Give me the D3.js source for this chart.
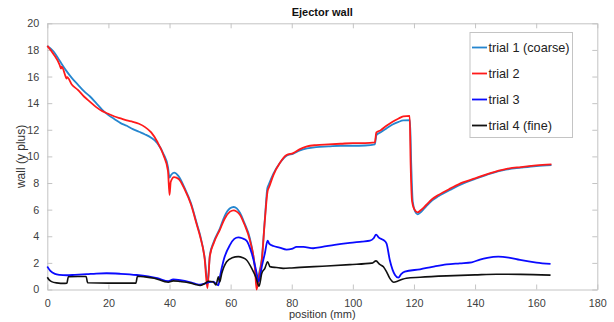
<!DOCTYPE html>
<html>
<head>
<meta charset="utf-8">
<script src="https://cdn.jsdelivr.net/npm/d3@7"></script>
<style>
  body { margin: 0; background: #fff; }
  svg { font-family: "Liberation Sans", Arial, sans-serif; }
</style>
</head>
<body>
<svg id="chart" width="614" height="322"></svg>
<script>
const xTicks = [0, 20, 40, 60, 80, 100, 120, 140, 160, 180];
const yTicks = [0, 2, 4, 6, 8, 10, 12, 14, 16, 18, 20];
const seriesNames = ["trial 1 (coarse)", "trial 2", "trial 3", "trial 4 (fine)"];

// position (mm), y plus
const trial1 = [
  [0, 18.3], [2, 17.9], [4, 17.2], [6, 16.5], [8, 15.9], [10, 15.4], [12, 14.9], [14, 14.5],
  [16, 14.0], [18, 13.5], [20, 13.1], [22, 12.8], [24, 12.5], [26, 12.3], [28, 12.05], [30, 11.85],
  [32, 11.65], [34, 11.4], [36, 11.0], [38, 10.2], [39.5, 9.2], [40, 8.4], [40.5, 8.6], [41.5, 8.78],
  [43, 8.5], [45, 7.6], [47, 6.5], [49, 4.9], [50, 4.1], [51.5, 2.4], [52.5, 0.5], [53.2, 2.6],
  [54.5, 3.6], [56.5, 4.6], [58, 5.5], [59.8, 6.1], [61, 6.2], [62, 6.1], [63.1, 5.75], [64.5, 5.0],
  [66.3, 3.85], [68, 1.6], [68.6, 0.3], [69.3, 1.2], [70.2, 2.3], [71.2, 5.3], [72, 7.6], [72.5, 7.9],
  [74, 8.7], [76.1, 9.5], [78.3, 10.05], [80.5, 10.2], [82.7, 10.45], [85, 10.6], [88, 10.7],
  [92, 10.75], [96, 10.8], [100, 10.8], [104, 10.82], [107.2, 10.9], [107.7, 11.6], [109, 11.8],
  [111, 12.1], [113, 12.4], [115, 12.6], [116.5, 12.7], [118.7, 12.72], [119.1, 9.5], [119.6, 6.6],
  [120.4, 5.85], [121.2, 5.65], [122.2, 5.8], [124, 6.25], [126, 6.7], [128, 7.0], [132, 7.5],
  [136, 7.95], [140, 8.3], [145, 8.7], [150, 9.0], [155, 9.15], [160, 9.28], [165, 9.35]
];

const trial2 = [
  [0, 18.3], [2, 17.7], [4, 16.9], [4.5, 16.6], [4.7, 16.75], [6, 16.0], [6.3, 15.85], [6.5, 15.95],
  [8, 15.4], [10, 15.0], [12, 14.5], [14, 14.1], [16, 13.7], [18, 13.4], [20, 13.2], [22, 13.0],
  [24, 12.85], [26, 12.7], [28, 12.6], [30, 12.45], [32, 12.2], [34, 11.8], [36, 11.1], [38, 10.1],
  [39.5, 8.9], [40, 7.1], [40.4, 8.1], [41.5, 8.45], [43, 8.3], [45, 7.5], [47, 6.4], [49, 4.8],
  [50, 4.0], [51.5, 2.3], [52.4, 0.1], [53.2, 2.5], [54.5, 3.5], [56.5, 4.5], [58, 5.3], [59.8, 5.85],
  [61, 5.95], [62, 5.85], [63.1, 5.6], [64.5, 4.9], [66.3, 3.7], [68, 1.5], [68.5, 0.0], [69.3, 1.0],
  [70.2, 2.2], [71.2, 5.2], [72.1, 7.4], [72.6, 7.7], [74, 8.6], [76.1, 9.5], [78.3, 10.1],
  [80.5, 10.25], [82.7, 10.55], [85, 10.75], [88, 10.85], [92, 10.9], [96, 10.95], [100, 11.0],
  [104, 11.0], [107.2, 11.05], [107.7, 11.8], [109, 11.95], [111, 12.3], [113, 12.6], [115, 12.85],
  [116.5, 13.0], [118.6, 13.05], [118.9, 9.5], [119.4, 6.6], [120.3, 5.95], [121.2, 5.8], [122.2, 5.95],
  [124, 6.35], [126, 6.8], [128, 7.1], [132, 7.6], [136, 8.05], [140, 8.35], [145, 8.75], [150, 9.05],
  [155, 9.2], [160, 9.32], [165, 9.4]
];

const trial3 = [
  [0, 1.72], [1, 1.4], [2.5, 1.17], [4, 1.1], [6.3, 1.07], [9, 1.1], [12.9, 1.15], [16, 1.2],
  [19.4, 1.22], [24, 1.18], [29.3, 1.09], [33, 0.98], [36, 0.85], [39.6, 0.62], [41.2, 0.75],
  [43.5, 0.7], [46.6, 0.55], [48.5, 0.42], [50, 0.36], [51.6, 0.45], [53, 0.55], [54.3, 0.59],
  [55.4, 0.41], [56, 0.32], [56.5, 0.96], [57.7, 2.2], [59.8, 3.35], [61.2, 3.8], [62.5, 3.92],
  [63.8, 3.85], [65.2, 3.67], [66.9, 2.72], [68.3, 1.47], [69.2, 0.6], [70.2, 1.72], [71.2, 2.72],
  [72.1, 3.67], [72.6, 3.45], [74, 3.27], [76, 3.15], [78.3, 3.0], [80, 3.05], [81.6, 3.2],
  [83.8, 3.2], [87, 3.1], [90, 3.2], [94, 3.35], [99, 3.5], [103, 3.6], [105.6, 3.67], [106.8, 3.85],
  [107.6, 4.12], [108.5, 3.9], [110, 3.72], [111, 3.47], [112.1, 2.2], [113.8, 1.09], [114.9, 0.89],
  [115.8, 1.15], [117, 1.34], [122, 1.52], [126, 1.7], [130.7, 1.89], [135, 1.97], [138.9, 2.04],
  [141.6, 2.25], [144, 2.38], [147.6, 2.47], [151, 2.4], [154.7, 2.22], [160.1, 2.02], [164.7, 1.92]
];

const trial4 = [
  [0, 0.92], [0.7, 0.7], [1.4, 0.59], [3, 0.5], [5.8, 0.46], [6.4, 0.47], [6.9, 0.96], [10, 0.98],
  [12.7, 0.98], [13.2, 0.51], [20, 0.48], [29.0, 0.48], [29.5, 1.0], [32, 0.95], [35, 0.85],
  [39.6, 0.55], [41.2, 0.65], [43.5, 0.6], [46.6, 0.5], [48.5, 0.38], [50, 0.3], [51.5, 0.45],
  [52.8, 0.62], [54.3, 0.57], [55.2, 0.34], [56, 0.96], [56.4, 0.55], [57.1, 1.22], [58.7, 2.09],
  [60.5, 2.38], [62.5, 2.47], [64, 2.38], [65.2, 2.22], [66.9, 1.59], [68.3, 0.9], [69.3, 0.25],
  [70.2, 1.22], [71.2, 1.59], [72.1, 2.09], [72.9, 1.72], [75, 1.65], [77.2, 1.59], [80, 1.62],
  [82.7, 1.66], [90, 1.75], [99, 1.87], [106.2, 1.98], [107.6, 2.15], [108.7, 1.9], [110, 1.71],
  [111, 1.35], [112.1, 0.84], [113.4, 0.55], [114.6, 0.62], [116, 0.75], [117.5, 0.85], [122, 0.92],
  [130.7, 1.02], [140, 1.1], [147, 1.15], [155, 1.14], [164.7, 1.08]
];

const series = [trial1, trial2, trial3, trial4];
const colors = ["#2586cf", "#ff1a1a", "#0a0aff", "#111111"];

const svg = d3.select("#chart");
const margin = { left: 47.3, top: 23.3, right: 16.7, bottom: 32.5 };
const W = 614 - margin.left - margin.right;
const H = 322 - margin.top - margin.bottom;

const x = d3.scaleLinear().domain([0, 180]).range([0, W]);
const y = d3.scaleLinear().domain([0, 20]).range([H, 0]);

const g = svg.append("g").attr("transform", `translate(${margin.left},${margin.top})`);

// axes box, MATLAB style ticks inside on all four sides
const axisStyle = sel => {
  sel.select(".domain").attr("stroke", "#c4c4c4");
  sel.selectAll(".tick line").attr("stroke", "#c4c4c4");
  sel.selectAll(".tick text").attr("fill", "#404040").style("font-size", "10.8px");
};

g.append("g").attr("transform", `translate(0,${H})`)
  .call(d3.axisBottom(x).tickValues(xTicks).tickSizeInner(-5).tickSizeOuter(0).tickPadding(10))
  .call(axisStyle);
g.append("g")
  .call(d3.axisTop(x).tickValues(xTicks).tickSizeInner(-5).tickSizeOuter(0).tickFormat(""))
  .call(axisStyle);
g.append("g")
  .call(d3.axisLeft(y).tickValues(yTicks).tickSizeInner(-5).tickSizeOuter(0).tickPadding(8))
  .call(axisStyle);
g.append("g").attr("transform", `translate(${W},0)`)
  .call(d3.axisRight(y).tickValues(yTicks).tickSizeInner(-5).tickSizeOuter(0).tickFormat(""))
  .call(axisStyle);

const line = d3.line()
  .x(d => x(d[0]))
  .y(d => y(d[1]))
  .curve(d3.curveMonotoneX);

g.append("g").selectAll("path")
  .data(series)
  .join("path")
  .attr("d", line)
  .attr("fill", "none")
  .attr("stroke", (d, i) => colors[i])
  .attr("stroke-width", (d, i) => i === 3 ? 1.6 : 1.8)
  .attr("stroke-linejoin", "round");

// title and labels
svg.append("text")
  .attr("x", margin.left + W / 2).attr("y", 16)
  .attr("text-anchor", "middle")
  .style("font-size", "11px").style("font-weight", "bold")
  .attr("fill", "#111")
  .text("Ejector wall");

svg.append("text")
  .attr("x", margin.left + W / 2).attr("y", 318)
  .attr("text-anchor", "middle")
  .style("font-size", "11px")
  .attr("fill", "#333")
  .text("position (mm)");

svg.append("text")
  .attr("transform", `translate(25,${margin.top + H / 2}) rotate(-90)`)
  .attr("text-anchor", "middle")
  .style("font-size", "12px")
  .attr("fill", "#333")
  .text("wall (y plus)");

// legend
const legend = svg.append("g").attr("transform", "translate(470,32.5)");
legend.append("rect")
  .attr("width", 102.5).attr("height", 105)
  .attr("fill", "#fff").attr("stroke", "#c4c4c4");

const item = legend.selectAll(".item")
  .data(seriesNames)
  .join("g")
  .attr("class", "item")
  .attr("transform", (d, i) => `translate(0,${15 + i * 26})`);

item.append("line")
  .attr("x1", 2).attr("x2", 17)
  .attr("stroke", (d, i) => colors[i])
  .attr("stroke-width", 1.8);

item.append("text")
  .attr("x", 18.5).attr("dy", "0.35em")
  .style("font-size", "12.7px")
  .attr("fill", "#222")
  .text(d => d);
</script>
</body>
</html>
